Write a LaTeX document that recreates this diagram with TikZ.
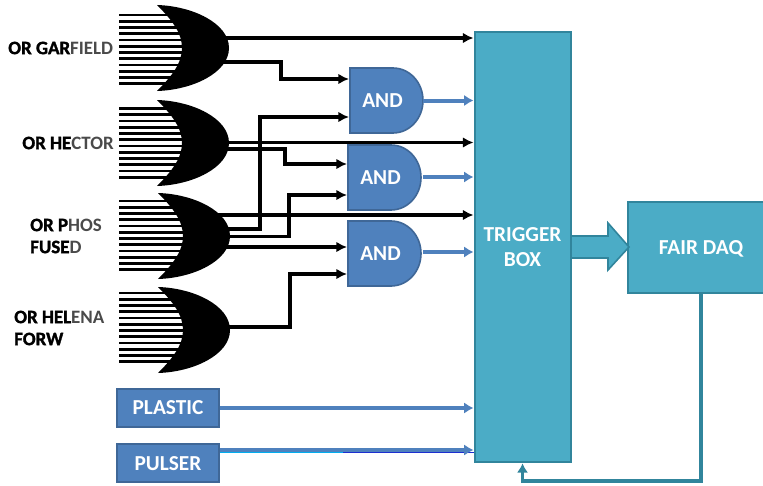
\documentclass[tikz,border=0pt]{standalone}
\usepackage{fontspec}
\setmainfont{Carlito}
\newfontfamily\heavyfont[BoldFeatures={FakeBold=1.6}]{Carlito}
\usetikzlibrary{arrows.meta}
\definecolor{gateblue}{HTML}{4F81BD}
\definecolor{gateedge}{HTML}{3F6797}
\definecolor{boxteal}{HTML}{4BACC6}
\definecolor{boxedge}{HTML}{31859C}
\definecolor{greytext}{HTML}{4A4A4A}
\tikzset{
  wire/.style={line width=2.8pt, black, -{Latex[length=8pt,width=8pt]}},
  bluewire/.style={line width=3pt, gateblue, -{Latex[length=7pt,width=8.5pt]}},
  tealwire/.style={line width=2.8pt, boxedge, -{Latex[length=7pt,width=8.5pt]}},
  inputline/.style={line width=2pt, black},
  orlabel/.style={font=\fontsize{14.2}{16.5}\selectfont\bfseries, align=left, inner sep=0pt},
  whitelabel/.style={font=\fontsize{16}{19}\selectfont\bfseries, text=white, align=center, inner sep=0pt, text depth=0pt},
  bluebox/.style={draw=gateedge, line width=1.5pt, fill=gateblue, whitelabel, minimum width=77pt, minimum height=28pt},
  tealbox/.style={draw=boxedge, line width=1.5pt, fill=boxteal, whitelabel},
}
\newcommand{\Heavy}[1]{{\heavyfont\bfseries #1}}
\newcommand{\GreyPart}[1]{{\color{greytext}#1}}
\begin{document}
\begin{tikzpicture}[x=0.75pt, y=-0.75pt]
\newcommand{\OrBack}{119} % where the input lines start
\newcommand{\LineGap}{6.25} % distance between two input lines

% name, x and y of the nose centre, y of the first input line
\newcommand{\OrGate}[4]{
  \foreach \k in {0,...,11}
    \draw[inputline] (\OrBack, #4 + \k*\LineGap) -- (#2 + 28, #4 + \k*\LineGap);
  \fill[black] (#2, #3 - 43) .. controls (#2 + 35, #3 - 42) and (#2 + 72, #3 - 25) .. (#2 + 72, #3)
    .. controls (#2 + 72, #3 + 25) and (#2 + 35, #3 + 42) .. (#2, #3 + 43)
    .. controls (#2 + 15, #3 + 28) and (#2 + 25, #3 + 15) .. (#2 + 25, #3)
    .. controls (#2 + 25, #3 - 15) and (#2 + 15, #3 - 28) .. (#2, #3 - 43) -- cycle;
  \coordinate (#1) at (#2 + 72, #3);
}
% name, left edge, top edge
\newcommand{\AndGate}[3]{
  \draw[draw=gateedge, line width=1.2pt, fill=gateblue] (#2, #3) -- (#2 + 43, #3)
    arc[x radius=30, y radius=32.5, start angle=-90, end angle=90] -- (#2, #3 + 65) -- cycle;
  \node[whitelabel, minimum width=65pt*0.75, minimum height=65pt*0.75] (#1) at (#2 + 32.5, #3 + 32.5) {AND};
}

\useasboundingbox (0,0) rectangle (763,485);

% OR gates
\OrGate{OrGar}{157}{48}{15}
\OrGate{OrHec}{157}{143}{108.5}
\OrGate{OrPho}{158}{236}{201}
\OrGate{OrHel}{158}{330}{293}

\node[orlabel, anchor=west] (LabGar) at (8,48) {\Heavy{OR GAR}\GreyPart{FIELD}};
\node[orlabel, anchor=east] (LabHec) at (114,143) {\Heavy{OR HE}\GreyPart{CTOR}};
\node[orlabel, anchor=west] (LabPho) at (30,236) {\Heavy{OR P}\GreyPart{HOS}\\\Heavy{FUSE}\GreyPart{D}};
\node[orlabel, anchor=west] (LabHel) at (14,328) {\Heavy{OR HEL}\GreyPart{ENA}\\\Heavy{FORW}};

% AND gates
\AndGate{AndOne}{350}{68}
\AndGate{AndTwo}{348}{145}
\AndGate{AndThree}{348}{221}

% boxes
\node[tealbox, minimum width=72pt, minimum height=323pt] (TrigBox) at (522.5,247) {TRIGGER\\BOX};
\node[tealbox, minimum width=109.5pt, minimum height=68pt] (FairDaq) at (701,247.5) {FAIR DAQ};
\node[bluebox] (Plastic) at (168,408) {PLASTIC};
\node[bluebox] (Pulser) at (168,463) {PULSER};

% free ends of the wires, inside the OR gates and at the AND gates
\coordinate (GarA) at (205,38);
\coordinate (GarB) at (205,62);
\coordinate (HecA) at (205,142.5);
\coordinate (HecB) at (205,149);
\coordinate (PhoA) at (205,215);
\coordinate (PhoB) at (205,229);
\coordinate (PhoC) at (205,236.5);
\coordinate (PhoD) at (205,247);
\coordinate (HelA) at (205,327);
\coordinate (AndOneA) at (349,79);
\coordinate (AndOneB) at (349,117);
\coordinate (AndTwoA) at (347,164);
\coordinate (AndTwoB) at (347,195);
\coordinate (AndThreeA) at (347,247);
\coordinate (AndThreeB) at (347,274);

% black wires
\draw[wire] (GarA) -- (GarA -| TrigBox.west);
\draw[wire] (HecA) -- (HecA -| TrigBox.west);
\draw[wire] (PhoA) -- (PhoA -| TrigBox.west);
\draw[wire] (GarB) -- ++(76,0) |- (AndOneA);
\draw[wire] (PhoB) -- ++(55,0) |- (AndOneB);
\draw[wire] (HecB) -- ++(80,0) |- (AndTwoA);
\draw[wire] (PhoC) -- ++(84,0) |- (AndTwoB);
\draw[wire] (PhoD) -- (AndThreeA);
\draw[wire] (HelA) -- ++(85,0) |- (AndThreeB);

% blue wires
\coordinate (AndOneOut) at (423,100.5);
\coordinate (AndTwoOut) at (423,177);
\coordinate (AndThreeOut) at (423,252);
\draw[bluewire] (AndOneOut) -- (AndOneOut -| TrigBox.west);
\draw[bluewire] (AndTwoOut) -- (AndTwoOut -| TrigBox.west);
\draw[bluewire] (AndThreeOut) -- (AndThreeOut -| TrigBox.west);
\draw[bluewire] (Plastic.east) -- (Plastic.east -| TrigBox.west);
\coordinate (PulserOut) at (Pulser.east |- 0,450);
\coordinate (PulserMid) at (343,452.5);
\draw[line width=1pt, cyan] (Pulser.east |- PulserMid) -- (PulserMid);
\draw[line width=1pt, blue!55!gateedge] (PulserMid) -- (PulserMid -| TrigBox.west);
\draw[bluewire] (PulserOut) -- (PulserOut -| TrigBox.west);

% fat arrow between the boxes
\draw[draw=boxedge, line width=1.2pt, fill=boxteal] (571,236) -- (608,236) -- (608,223) -- (629,247)
  -- (608,270) -- (608,258) -- (571,258) -- cycle;

% way back from the DAQ
\draw[tealwire] (FairDaq.south) -- (FairDaq.south |- 0,481) -| (TrigBox.south);
\end{tikzpicture}
\end{document}
